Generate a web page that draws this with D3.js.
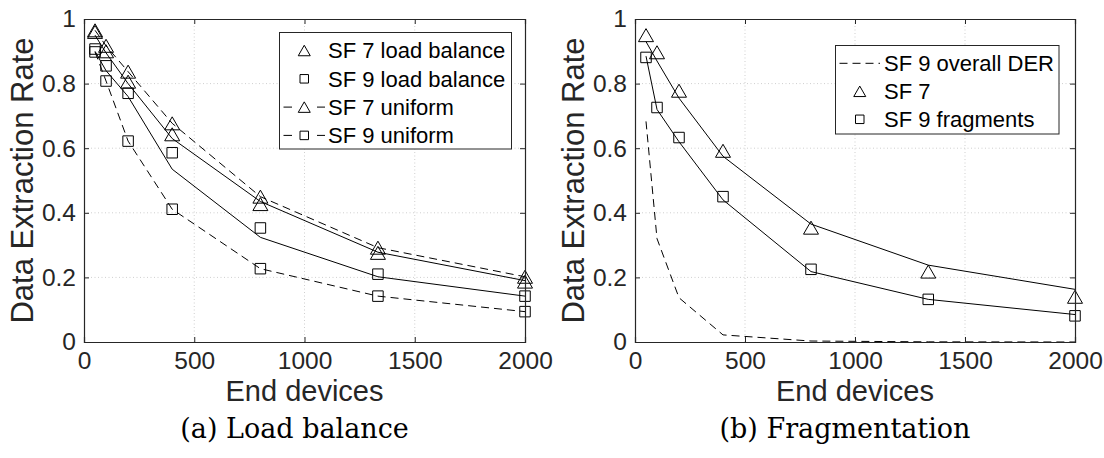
<!DOCTYPE html>
<html>
<head>
<meta charset="utf-8">
<script src="https://cdn.jsdelivr.net/npm/d3@7"></script>
<style>
  html, body { margin: 0; padding: 0; background: #fff; }
  svg { display: block; }
</style>
</head>
<body>
<svg id="fig" width="1104" height="458"></svg>
<script>
// Number of end devices simulated
const devices = [50, 100, 200, 400, 800, 1333, 2000];

// (a) Load balance
const sf7LoadBalance = [0.960, 0.900, 0.806, 0.643, 0.427, 0.276, 0.187];
const sf9LoadBalance = [0.907, 0.855, 0.770, 0.586, 0.353, 0.210, 0.142];
const sf7Uniform     = [0.965, 0.917, 0.837, 0.677, 0.450, 0.292, 0.202];
const sf9Uniform     = [0.898, 0.808, 0.622, 0.411, 0.227, 0.142, 0.094];
const sf7LoadBalanceModel = [0.950, 0.895, 0.800, 0.630, 0.435, 0.278, 0.190];
const sf9LoadBalanceModel = [0.900, 0.840, 0.760, 0.535, 0.324, 0.202, 0.142];

// (b) Fragmentation
const sf9OverallDER  = [0.683, 0.320, 0.137, 0.022, 0.003, 0.0005, 0.0];
const sf7Frag        = [0.950, 0.897, 0.778, 0.592, 0.354, 0.218, 0.140];
const sf9Fragments   = [0.881, 0.726, 0.633, 0.450, 0.225, 0.132, 0.081];
const sf7FragModel   = [0.930, 0.870, 0.755, 0.575, 0.365, 0.238, 0.163];
const sf9FragModel   = [0.885, 0.720, 0.620, 0.440, 0.218, 0.132, 0.085];

const xTicks = [0, 500, 1000, 1500, 2000];
const yTicks = [0, 0.2, 0.4, 0.6, 0.8, 1];
const xLabel = "End devices";
const yLabel = "Data Extraction Rate";
const captions = ["(a) Load balance", "(b) Fragmentation"];

const legendA = ["SF 7 load balance", "SF 9 load balance", "SF 7 uniform", "SF 9 uniform"];
const legendB = ["SF 9 overall DER", "SF 7", "SF 9 fragments"];

const SANS = "'Liberation Sans', Arial, Helvetica, sans-serif";
const SERIF = "'DejaVu Serif', 'Liberation Serif', serif";
const AX = "#262626";
const DASH = "8,5";

const svg = d3.select("#fig");
svg.append("rect").attr("width", 1104).attr("height", 458).attr("fill", "#fff");

function triPath(cx, cy, w, h) {
  const p = d3.path();
  p.moveTo(cx, cy - h / 2);
  p.lineTo(cx + w / 2, cy + h / 2);
  p.lineTo(cx - w / 2, cy + h / 2);
  p.closePath();
  return p.toString();
}
function sqPath(cx, cy, s) {
  const p = d3.path();
  p.rect(cx - s / 2, cy - s / 2, s, s);
  return p.toString();
}
function drawMarker(g, shape, cx, cy) {
  g.append("path")
    .attr("d", shape === "tri" ? triPath(cx, cy, 15, 13) : sqPath(cx, cy, 10.5))
    .attr("fill", "none").attr("stroke", "#000").attr("stroke-width", 1);
}

function panel(cfg) {
  const x = d3.scaleLinear().domain([0, 2000]).range([cfg.x0, cfg.x1]);
  const y = d3.scaleLinear().domain([0, 1]).range([342, 19]);
  const g = svg.append("g");

  // dotted grid
  g.append("g").selectAll("line").data(xTicks.slice(1, -1)).join("line")
    .attr("x1", d => x(d)).attr("x2", d => x(d)).attr("y1", y(0)).attr("y2", y(1))
    .attr("stroke", "#cfcfcf").attr("stroke-width", 1).attr("stroke-dasharray", "1,2.5");
  g.append("g").selectAll("line").data(yTicks.slice(1, -1)).join("line")
    .attr("x1", x(0)).attr("x2", x(2000)).attr("y1", d => y(d)).attr("y2", d => y(d))
    .attr("stroke", "#cfcfcf").attr("stroke-width", 1).attr("stroke-dasharray", "1,2.5");

  const line = d3.line().x((d, i) => x(devices[i])).y(d => y(d));

  cfg.lines.forEach(l => {
    g.append("path").datum(l.values).attr("d", line)
      .attr("fill", "none").attr("stroke", "#000").attr("stroke-width", 1)
      .attr("stroke-dasharray", l.dashed ? DASH : null);
  });
  cfg.markers.forEach(m => {
    m.values.forEach((v, i) => drawMarker(g, m.shape, x(devices[i]), y(v)));
  });

  // axes, box with inward ticks on all four sides
  const axB = d3.axisBottom(x).tickValues(xTicks).tickSize(-5).tickPadding(10).tickFormat(d3.format("d"));
  const axT = d3.axisTop(x).tickValues(xTicks).tickSize(-5).tickFormat("");
  const axL = d3.axisLeft(y).tickValues(yTicks).tickSize(-5).tickPadding(8).tickFormat(d => d3.format("")(d));
  const axR = d3.axisRight(y).tickValues(yTicks).tickSize(-5).tickFormat("");

  const gb = g.append("g").attr("transform", `translate(0,${y(0)})`).call(axB);
  const gt = g.append("g").attr("transform", `translate(0,${y(1)})`).call(axT);
  const gl = g.append("g").attr("transform", `translate(${x(0)},0)`).call(axL);
  const gr = g.append("g").attr("transform", `translate(${x(2000)},0)`).call(axR);
  [gb, gt, gl, gr].forEach(a => {
    a.selectAll("path.domain").attr("stroke", AX).attr("stroke-width", 1.2);
    a.selectAll(".tick line").attr("stroke", AX).attr("stroke-width", 1);
    a.selectAll(".tick text").attr("fill", AX).attr("font-family", SANS).attr("font-size", 24.5);
  });

  // axis labels
  g.append("text").attr("x", (cfg.x0 + cfg.x1) / 2).attr("y", 401)
    .attr("text-anchor", "middle").attr("font-family", SANS).attr("font-size", 29)
    .attr("fill", AX).text(xLabel);
  g.append("text").attr("transform", `translate(${cfg.x0 - 51},${(19 + 342) / 2}) rotate(-90)`)
    .attr("text-anchor", "middle").attr("font-family", SANS).attr("font-size", 31)
    .attr("fill", AX).text(yLabel);

  // caption
  g.append("text").attr("x", (cfg.x0 + cfg.x1) / 2 - 10).attr("y", 438)
    .attr("text-anchor", "middle").attr("font-family", SERIF).attr("font-size", 27)
    .attr("fill", "#000").text(cfg.caption);

  // legend
  const L = cfg.legend;
  const lg = g.append("g");
  lg.append("rect").attr("x", L.x).attr("y", L.y).attr("width", L.w).attr("height", L.h)
    .attr("fill", "#fff").attr("stroke", AX).attr("stroke-width", 1);
  L.items.forEach((it, i) => {
    const cy = L.y + L.first + i * L.step;
    const x1 = L.x + 4, x2 = L.x + L.sample;
    const mx = (x1 + x2) / 2;
    if (it.dashed && it.shape) {
      // short dash on each side of the marker
      [[x1, x1 + 8.5], [x2 - 8, x2]].forEach(s => {
        lg.append("line").attr("x1", s[0]).attr("x2", s[1]).attr("y1", cy).attr("y2", cy)
          .attr("stroke", "#000").attr("stroke-width", 1);
      });
    } else if (it.dashed) {
      lg.append("line").attr("x1", x1).attr("x2", x2).attr("y1", cy).attr("y2", cy)
        .attr("stroke", "#000").attr("stroke-width", 1).attr("stroke-dasharray", DASH);
    }
    if (it.shape) {
      lg.append("path")
        .attr("d", it.shape === "tri" ? triPath(mx, cy, 12, 10.5) : sqPath(mx, cy, 8.5))
        .attr("fill", "none").attr("stroke", "#000").attr("stroke-width", 1);
    }
    lg.append("text").attr("x", L.x + L.textX).attr("y", cy).attr("dy", "0.35em")
      .attr("font-family", SANS).attr("font-size", 22).attr("fill", "#000").text(it.label);
  });
}

panel({
  x0: 84, x1: 525, caption: captions[0],
  lines: [
    { values: sf7LoadBalanceModel, dashed: false },
    { values: sf9LoadBalanceModel, dashed: false },
    { values: sf7Uniform, dashed: true },
    { values: sf9Uniform, dashed: true }
  ],
  markers: [
    { values: sf7LoadBalance, shape: "tri" },
    { values: sf9LoadBalance, shape: "sq" },
    { values: sf7Uniform, shape: "tri" },
    { values: sf9Uniform, shape: "sq" }
  ],
  legend: {
    x: 279.5, y: 32.5, w: 232, h: 116.5, first: 18, step: 28.3, sample: 45.5, textX: 48.5,
    items: [
      { label: legendA[0], shape: "tri", dashed: false },
      { label: legendA[1], shape: "sq", dashed: false },
      { label: legendA[2], shape: "tri", dashed: true },
      { label: legendA[3], shape: "sq", dashed: true }
    ]
  }
});

panel({
  x0: 635, x1: 1075, caption: captions[1],
  lines: [
    { values: sf9OverallDER, dashed: true },
    { values: sf7FragModel, dashed: false },
    { values: sf9FragModel, dashed: false }
  ],
  markers: [
    { values: sf7Frag, shape: "tri" },
    { values: sf9Fragments, shape: "sq" }
  ],
  legend: {
    x: 835.5, y: 45.5, w: 223.5, h: 88.5, first: 17.8, step: 28, sample: 44.5, textX: 48.5,
    items: [
      { label: legendB[0], shape: null, dashed: true },
      { label: legendB[1], shape: "tri", dashed: false },
      { label: legendB[2], shape: "sq", dashed: false }
    ]
  }
});
</script>
</body>
</html>
